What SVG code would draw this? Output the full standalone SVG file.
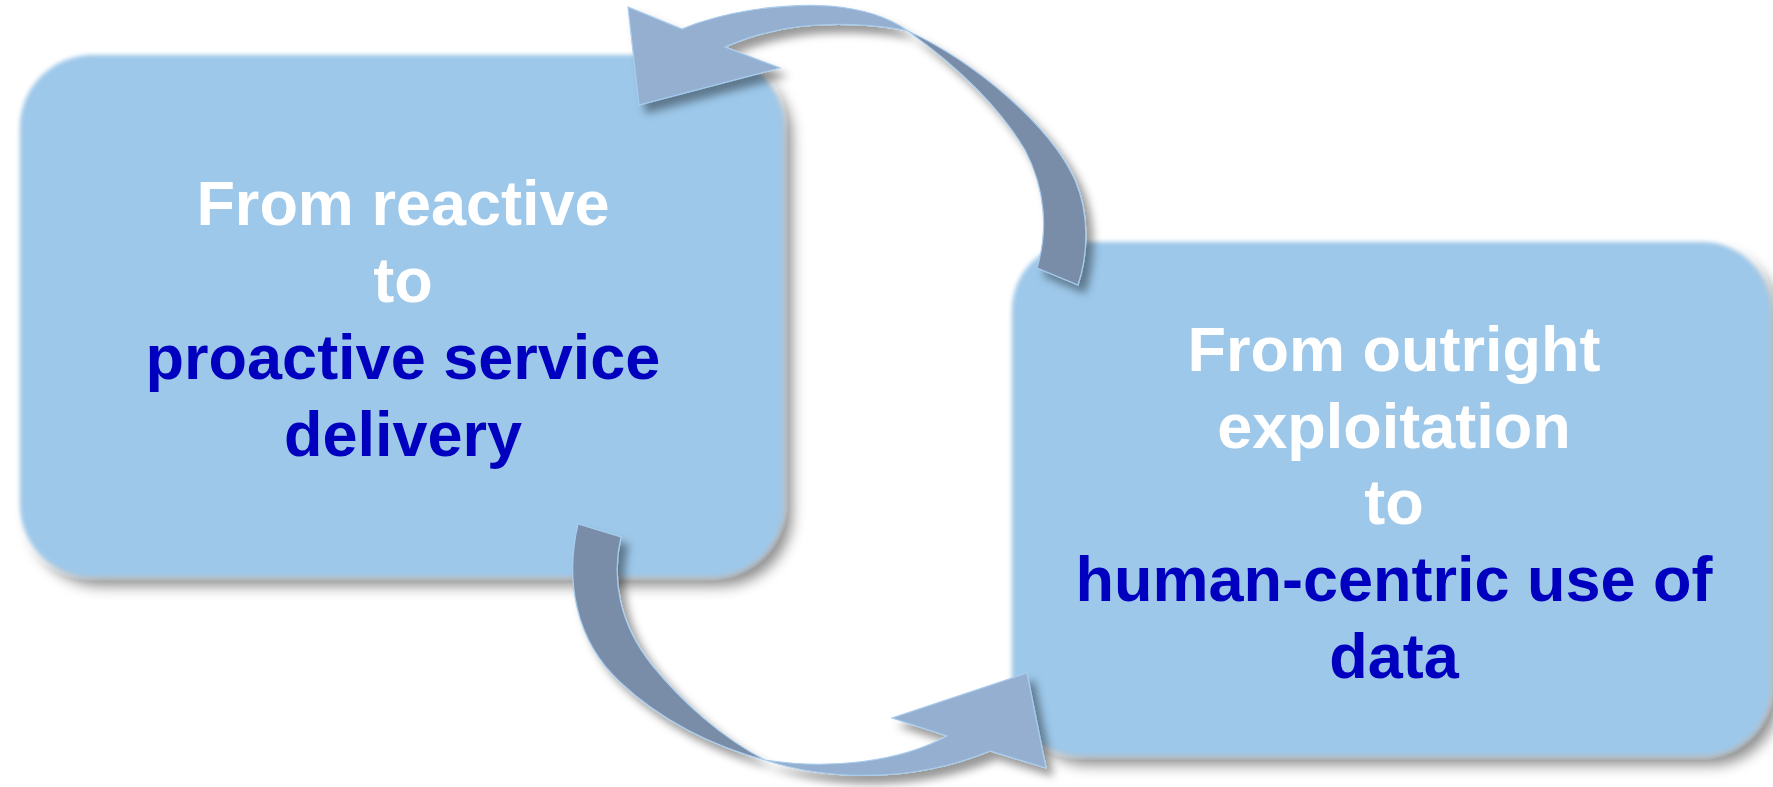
<svg xmlns="http://www.w3.org/2000/svg" width="1773" height="787" viewBox="0 0 1773 787">
<defs>
<filter id="boxsh" x="-10%" y="-10%" width="125%" height="130%">
<feGaussianBlur in="SourceAlpha" stdDeviation="7" result="b"/>
<feOffset in="b" dx="9" dy="10" result="o"/>
<feFlood flood-color="#000" flood-opacity="0.45"/>
<feComposite in2="o" operator="in" result="s"/>
<feGaussianBlur in="SourceGraphic" stdDeviation="2" result="g"/>
<feMerge><feMergeNode in="s"/><feMergeNode in="g"/></feMerge>
</filter>
<filter id="arrsh" x="-20%" y="-20%" width="150%" height="150%">
<feGaussianBlur in="SourceAlpha" stdDeviation="4" result="b"/>
<feOffset in="b" dx="7" dy="8" result="o"/>
<feFlood flood-color="#000" flood-opacity="0.4"/>
<feComposite in2="o" operator="in" result="s"/>
<feMerge><feMergeNode in="s"/><feMergeNode in="SourceGraphic"/></feMerge>
</filter>
<style>
.box{fill:#9DC8EA;filter:url(#boxsh)}
.t{font-family:"Liberation Sans",Arial,sans-serif;font-weight:bold;font-size:63px;text-anchor:middle}
.w{fill:#FFFFFF}
.b{fill:#0000BE}
.lt{fill:#95AFD0;stroke:#A8CDEE;stroke-width:1.2}
.dk{fill:#7A8DA8;stroke:#A8CDEE;stroke-width:1.2}
</style>
</defs>
<rect width="1773" height="787" fill="#FFFFFF"/>
<g id="node-left">
<rect class="box" x="20" y="55" width="763" height="521" rx="72"/>
<text class="t w" x="403" y="225">From reactive</text>
<text class="t w" x="403" y="302">to</text>
<text class="t b" x="403" y="379">proactive service</text>
<text class="t b" x="403" y="456">delivery</text>
</g>
<g id="node-right">
<rect class="box" x="1012" y="242" width="758" height="513" rx="68"/>
<text class="t w" x="1394" y="371">From outright</text>
<text class="t w" x="1394" y="448">exploitation</text>
<text class="t w" x="1394" y="524">to</text>
<text class="t b" x="1394" y="601">human-centric use of</text>
<text class="t b" x="1394" y="678">data</text>
</g>
<g id="connectors">
<g id="arrow-top" filter="url(#arrsh)">
<path class="dk" d="M908,31 C975,62 1050,125 1075,180 C1090,215 1088,255 1078,285 L1037,268 C1048,232 1046,190 1025,150 C1000,108 962,70 908,31 Z"/>
<path class="lt" d="M682,29 C722,12 780,3 830,6 C865,9 890,18 908,31 C885,26 850,23 817,25 C785,27 752,35 725,47 L780,68 L639,105 L628,7 Z"/>
</g>
<g id="arrow-bottom" filter="url(#arrsh)">
<path class="dk" d="M578,524 C565,580 575,640 620,682 C660,720 712,746 765,760 C722,738 682,702 652,665 C620,625 611,580 621,537 Z"/>
<path class="lt" d="M765,760 C825,780 910,784 990,751 L1046,768 L1027,673 L892,718 L947,736 C900,762 830,770 765,760 Z"/>
</g>
</g>
</svg>
